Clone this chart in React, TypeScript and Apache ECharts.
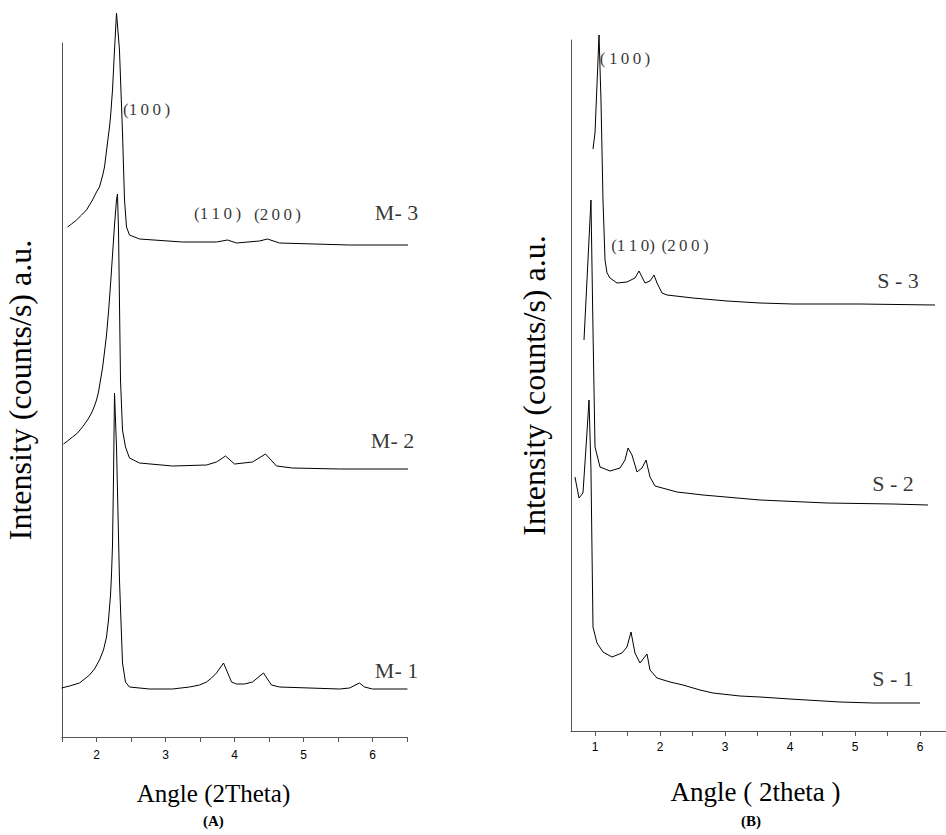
import React, { useEffect, useRef } from "react";
import * as echarts from "echarts";

// ---- Panel A (M samples) ----
const M1_X = [1.493, 1.609, 1.754, 1.899, 1.971, 2.043, 2.101, 2.145, 2.174, 2.203, 2.217, 2.232, 2.246, 2.261, 2.29, 2.333, 2.377, 2.42, 2.478, 2.768, 3.101, 3.348, 3.493, 3.594, 3.667, 3.739, 3.841, 3.957, 4.029, 4.145, 4.261, 4.42, 4.536, 4.652, 5.522, 5.667, 5.812, 5.884, 6.0, 6.507];
const M1_Y = [49, 51, 54, 62, 68, 77, 87, 100, 117, 142, 162, 192, 257, 344, 290, 157, 74, 55, 50, 48, 48, 50, 52, 55, 59, 64, 74, 55, 53, 53, 55, 64, 52, 50, 48, 49, 54, 50, 48, 48];

const M2_X = [1.522, 1.58, 1.652, 1.725, 1.797, 1.87, 1.928, 1.971, 2.0, 2.029, 2.058, 2.087, 2.116, 2.145, 2.174, 2.203, 2.232, 2.261, 2.29, 2.304, 2.319, 2.348, 2.377, 2.42, 2.478, 2.623, 3.101, 3.594, 3.739, 3.87, 4.0, 4.261, 4.449, 4.609, 4.841, 5.522, 6.565];
const M2_Y = [293, 296, 300, 304, 310, 317, 324, 331, 337, 345, 357, 369, 385, 402, 425, 452, 482, 512, 537, 543, 507, 357, 307, 290, 279, 274, 271, 272, 275, 281, 273, 275, 283, 271, 269, 268, 268];

const M3_X = [1.58, 1.638, 1.71, 1.783, 1.855, 1.942, 2.0, 2.043, 2.087, 2.116, 2.159, 2.188, 2.203, 2.232, 2.261, 2.29, 2.333, 2.377, 2.406, 2.435, 2.478, 2.623, 3.246, 3.739, 3.899, 4.029, 4.362, 4.478, 4.652, 5.667, 6.609];
const M3_Y = [510, 513, 517, 522, 527, 537, 545, 550, 561, 570, 594, 610, 620, 647, 687, 724, 687, 604, 537, 510, 502, 498, 495, 495, 497, 494, 496, 498, 494, 492, 492];

// ---- Panel B (S samples) ----
const S1_X = [0.692, 0.754, 0.815, 0.862, 0.908, 0.938, 0.969, 1.031, 1.123, 1.262, 1.415, 1.492, 1.554, 1.615, 1.692, 1.8, 1.846, 1.954, 2.154, 2.354, 2.615, 2.815, 3.231, 3.538, 4.0, 4.769, 5.277, 6.0];
const S1_Y = [254, 233, 238, 284, 331, 261, 104, 88, 79, 74, 78, 84, 99, 78, 68, 77, 61, 53, 49, 46, 41, 38, 35, 34, 32, 29, 28, 28];

const S2_X = [0.831, 0.938, 0.969, 1.0, 1.077, 1.231, 1.385, 1.462, 1.508, 1.569, 1.646, 1.723, 1.785, 1.846, 1.923, 2.262, 2.662, 3.538, 4.569, 5.585, 6.123];
const S2_Y = [391, 531, 401, 284, 264, 260, 263, 271, 283, 276, 259, 263, 271, 254, 245, 239, 236, 231, 228, 227, 226];

const S3_X = [0.969, 1.0, 1.062, 1.092, 1.123, 1.154, 1.185, 1.231, 1.338, 1.492, 1.615, 1.677, 1.723, 1.769, 1.846, 1.908, 1.954, 2.031, 2.108, 2.508, 3.031, 3.538, 4.046, 5.077, 6.231];
const S3_Y = [582, 598, 696, 631, 531, 471, 458, 453, 448, 449, 453, 460, 454, 448, 450, 456, 448, 438, 436, 433, 430, 428, 427, 427, 426];

// ---- Axis ticks ----
const A_TICKS = [1.5, 2, 2.5, 3, 3.5, 4, 4.5, 5, 5.5, 6, 6.5];
const A_LABELS = [2, 3, 4, 5, 6];
const B_TICKS = [1, 1.5, 2, 2.5, 3, 3.5, 4, 4.5, 5, 5.5, 6];
const B_LABELS = [1, 2, 3, 4, 5, 6];

// ---- Annotations [x, y, text] ----
const A_PEAK_NOTES: [number, number, string][] = [
  [2.725, 628, "(1\u20090\u20090\u2009)"],
  [3.754, 524, "(1\u20091\u20090\u2009)"],
  [4.623, 523, "(2\u20090\u20090\u2009)"],
];
const A_SAMPLE_NOTES: [number, number, string][] = [
  [6.348, 525, "M- 3"],
  [6.29, 297, "M- 2"],
  [6.348, 67, "M- 1"],
];
const B_PEAK_NOTES: [number, number, string][] = [
  [1.462, 673, "(\u20091\u20090\u20090\u2009)"],
  [1.585, 486, "(1\u20091\u20090)"],
  [2.385, 486, "(2\u20090\u20090\u2009)"],
];
const B_SAMPLE_NOTES: [number, number, string][] = [
  [5.662, 451, "S - 3"],
  [5.585, 248, "S - 2"],
  [5.585, 53, "S - 1"],
];

const SERIF = "'Liberation Serif', 'Times New Roman', serif";
const SANS = "'Liberation Sans', Arial, sans-serif";
const AXIS_COLOR = "#555";

const zip = (xs: number[], ys: number[]) => xs.map((x, i) => [x, ys[i]]);

function lineSeries(name: string, xs: number[], ys: number[], idx: number) {
  return {
    name,
    type: "line",
    xAxisIndex: idx,
    yAxisIndex: idx,
    data: zip(xs, ys),
    showSymbol: false,
    symbol: "none",
    clip: false,
    lineStyle: { color: "#000", width: 1 },
    emphasis: { disabled: true },
    silent: true,
  };
}

function noteSeries(notes: [number, number, string][], idx: number, size: number) {
  return {
    type: "scatter",
    xAxisIndex: idx,
    yAxisIndex: idx,
    symbolSize: 0,
    silent: true,
    clip: false,
    data: notes.map((n) => ({ value: [n[0], n[1]], name: n[2] })),
    label: {
      show: true,
      position: "inside",
      formatter: "{b}",
      color: "#000",
      fontFamily: SERIF,
      fontSize: size,
    },
    emphasis: { disabled: true },
  };
}

function xAxis(idx: number, min: number, max: number, ticks: number[], labels: number[], name: string, margin: number, nameGap: number, namePad: number[], nameSize: number) {
  return {
    type: "value",
    gridIndex: idx,
    min,
    max,
    name,
    nameLocation: "middle",
    nameGap,
    nameTextStyle: { fontFamily: SERIF, fontSize: nameSize, color: "#000", padding: namePad },
    splitLine: { show: false },
    axisLine: { show: true, lineStyle: { color: AXIS_COLOR, width: 1 } },
    axisTick: { show: true, inside: false, length: 5, customValues: ticks, lineStyle: { color: AXIS_COLOR } },
    axisLabel: { show: true, customValues: labels, margin, color: "#000", fontFamily: SANS, fontSize: 12 },
  };
}

function yAxis(idx: number, max: number, nameGap: number) {
  return {
    type: "value",
    gridIndex: idx,
    min: 0,
    max,
    name: "Intensity (counts/s) a.u.",
    nameLocation: "middle",
    nameGap,
    nameTextStyle: { fontFamily: SERIF, fontSize: 32, color: "#000" },
    splitLine: { show: false },
    axisLine: { show: true, lineStyle: { color: AXIS_COLOR, width: 1 } },
    axisTick: { show: false },
    axisLabel: { show: false },
  };
}

export default function App() {
  const ref = useRef<HTMLDivElement>(null);
  useEffect(() => {
    if (!ref.current) return;
    const chart = echarts.init(ref.current, null, { renderer: "svg" });
    chart.setOption({
      animation: false,
      backgroundColor: "#fff",
      grid: [
        { left: 62, top: 43, width: 345, height: 694 },
        { left: 571, top: 40, width: 375, height: 691 },
      ],
      xAxis: [
        xAxis(0, 1.5, 6.5, A_TICKS, A_LABELS, "Angle (2Theta)", 12, 44, [0, 42, 0, 0], 25),
        xAxis(1, 1 + (571 - 595) / 65, 1 + (946 - 595) / 65, B_TICKS, B_LABELS, "Angle ( 2theta )", 10, 47, [0, 6, 0, 0], 27),
      ],
      yAxis: [yAxis(0, 694, 26), yAxis(1, 691, 21)],
      series: [
        lineSeries("M-1", M1_X, M1_Y, 0),
        lineSeries("M-2", M2_X, M2_Y, 0),
        lineSeries("M-3", M3_X, M3_Y, 0),
        lineSeries("S-1", S1_X, S1_Y, 1),
        lineSeries("S-2", S2_X, S2_Y, 1),
        lineSeries("S-3", S3_X, S3_Y, 1),
        noteSeries(A_PEAK_NOTES, 0, 17),
        noteSeries(A_SAMPLE_NOTES, 0, 22),
        noteSeries(B_PEAK_NOTES, 1, 17),
        noteSeries(B_SAMPLE_NOTES, 1, 22),
      ],
      graphic: [
        { type: "text", left: 203, top: 813, style: { text: "(A)", font: `bold 15px ${SERIF}`, fill: "#000" } },
        { type: "text", left: 741, top: 813, style: { text: "(B)", font: `bold 15px ${SERIF}`, fill: "#000" } },
      ],
    });
    return () => chart.dispose();
  }, []);
  return <div ref={ref} style={{ position: "absolute", left: 0, top: 0, width: 946, height: 835 }} />;
}
